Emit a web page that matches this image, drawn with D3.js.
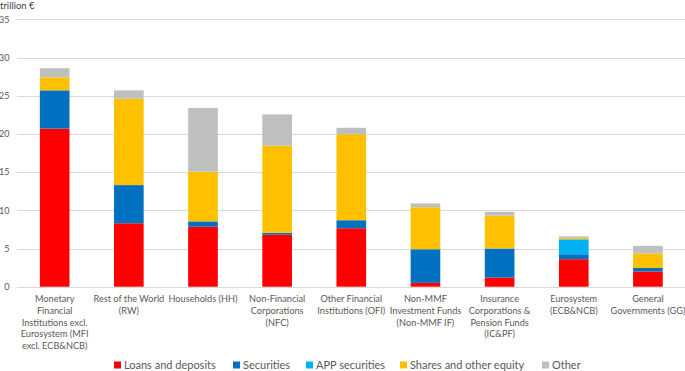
<!DOCTYPE html>
<html>
<head>
<meta charset="utf-8">
<script src="https://cdn.jsdelivr.net/npm/d3@7"></script>
<style>
  body { margin: 0; background: #fff; }
  svg { display: block; }
  text { font-family: Lato, "Open Sans", sans-serif; }
</style>
</head>
<body>
<div id="chart"></div>
<script>
// categories (wrapped as in the original)
const categories = ["MFI", "RW", "HH", "NFC", "OFI", "NonMMF", "ICPF", "ES", "GG"];
const categoryLines = [
    ["Monetary", "Financial", "Institutions excl.", "Eurosystem (MFI", "excl. ECB&NCB)"],
    ["Rest of the World", "(RW)"],
    ["Households (HH)"],
    ["Non-Financial", "Corporations", "(NFC)"],
    ["Other Financial", "Institutions (OFI)"],
    ["Non-MMF", "Investment Funds", "(Non-MMF IF)"],
    ["Insurance", "Corporations &", "Pension Funds", "(IC&PF)"],
    ["Eurosystem", "(ECB&NCB)"],
    ["General", "Governments (GG)"]
];

// series values, trillion €
const loansDeposits = [20.7, 8.3, 7.85, 6.8, 7.65, 0.5, 1.2, 3.6, 2.0];
const securities    = [5.0, 5.0, 0.7, 0.25, 1.05, 4.4, 3.8, 0.65, 0.45];
const appSecurities = [0, 0, 0, 0, 0, 0, 0, 1.95, 0];
const sharesEquity  = [1.7, 11.3, 6.5, 11.4, 11.25, 5.5, 4.3, 0.2, 1.9];
const other         = [1.2, 1.1, 8.35, 4.1, 0.85, 0.5, 0.5, 0.2, 1.0];

const seriesNames = ["Loans and deposits", "Securities", "APP securities", "Shares and other equity", "Other"];
const seriesColors = ["#FF0000", "#0070C0", "#00B0F0", "#FFC000", "#BFBFBF"];
const yTicks = [0, 5, 10, 15, 20, 25, 30, 35];

const W = 685, H = 371;
const svg = d3.select("#chart").append("svg").attr("width", W).attr("height", H);

const x = d3.scaleBand().domain(categories).range([17.6, 685]).paddingInner(0.6).paddingOuter(0.3);
const y = d3.scaleLinear().domain([0, 35]).range([286.7, 19.3]);

// gridlines
svg.append("g").selectAll("line").data(yTicks).join("line")
    .attr("x1", 17).attr("x2", W)
    .attr("y1", d => Math.round(y(d)) + 0.5).attr("y2", d => Math.round(y(d)) + 0.5)
    .attr("stroke", "#D9D9D9").attr("stroke-width", 1);

// tick labels
svg.append("g").selectAll("text").data(yTicks).join("text")
    .attr("x", 9.5).attr("y", d => y(d) + 3.2)
    .attr("text-anchor", "end")
    .style("font-size", "9px").attr("fill", "#595959")
    .text(d => d);

svg.append("text").attr("x", 0).attr("y", 8.5)
    .style("font-size", "9.5px").attr("fill", "#404040")
    .text("trillion €");

// stack
const table = categories.map((c, i) => ({
    cat: c,
    s0: loansDeposits[i], s1: securities[i], s2: appSecurities[i], s3: sharesEquity[i], s4: other[i]
}));
const stacked = d3.stack().keys(["s0", "s1", "s2", "s3", "s4"])(table);

svg.append("g").selectAll("g").data(stacked).join("g")
    .attr("fill", (d, i) => seriesColors[i])
    .selectAll("rect").data(d => d).join("rect")
    .attr("x", d => x(d.data.cat))
    .attr("width", x.bandwidth())
    .attr("y", d => y(d[1]))
    .attr("height", d => Math.max(0, y(d[0]) - y(d[1])));

// category labels
const cl = svg.append("g").selectAll("text").data(categories).join("text")
    .attr("text-anchor", "middle")
    .attr("x", d => x(d) + x.bandwidth() / 2)
    .attr("y", 302.2)
    .style("font-size", "9.2px").attr("fill", "#595959");
cl.each(function(d, i) {
    d3.select(this).selectAll("tspan").data(categoryLines[i]).join("tspan")
        .attr("x", x(d) + x.bandwidth() / 2)
        .attr("dy", (t, j) => j === 0 ? 0 : 11.7)
        .text(t => t);
});

// legend
const legendX = [114, 233, 306, 400, 542];
const lg = svg.append("g").selectAll("g").data(seriesNames).join("g")
    .attr("transform", (d, i) => `translate(${legendX[i]},365)`);
lg.append("rect").attr("x", 0).attr("y", -3.5).attr("width", 7).attr("height", 7)
    .attr("fill", (d, i) => seriesColors[i]);
lg.append("text").attr("x", 10).attr("y", 4)
    .style("font-size", "11px").attr("fill", "#595959")
    .text(d => d);
</script>
</body>
</html>
